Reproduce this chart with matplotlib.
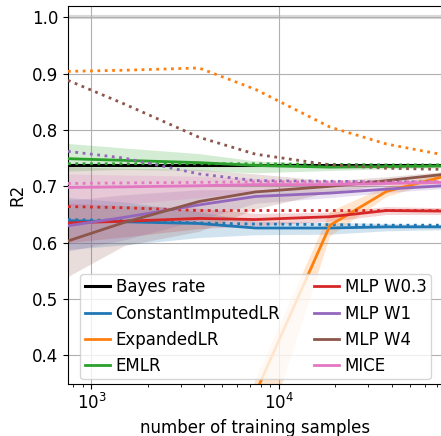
import numpy as np
import matplotlib
matplotlib.use('Agg')
from matplotlib import pyplot as plt

# training set sizes
n_samples = [750, 1500, 3750, 7500, 18750, 37500, 75000]

# Bayes rate (reference)
bayes = [0.737, 0.737, 0.737, 0.737, 0.737, 0.737, 0.737]

# test scores (solid), lower / upper band, train scores (dotted)
const_lr = [0.639, 0.637, 0.634, 0.626, 0.626, 0.628, 0.628]
const_lr_lo = [0.588, 0.596, 0.609, 0.614, 0.615, 0.621, 0.623]
const_lr_hi = [0.680, 0.672, 0.655, 0.638, 0.636, 0.634, 0.632]
const_lr_train = [0.641, 0.639, 0.635, 0.633, 0.632, 0.631, 0.631]

expanded = [-1.8, -0.9, -0.15, 0.333, 0.631, 0.691, 0.717]
expanded_lo = [-2.3, -1.3, -0.4, 0.203, 0.611, 0.681, 0.711]
expanded_hi = [-1.4, -0.6, 0.0, 0.357, 0.655, 0.700, 0.722]
expanded_train = [0.904, 0.906, 0.910, 0.872, 0.805, 0.775, 0.756]

emlr = [0.749, 0.746, 0.742, 0.737, 0.734, 0.735, 0.736]
emlr_lo = [0.727, 0.730, 0.728, 0.724, 0.728, 0.731, 0.733]
emlr_hi = [0.776, 0.768, 0.758, 0.745, 0.740, 0.739, 0.739]
emlr_train = [0.740, 0.740, 0.740, 0.740, 0.739, 0.738, 0.738]

mlp03 = [0.635, 0.638, 0.643, 0.641, 0.646, 0.657, 0.656]
mlp03_lo = [0.600, 0.610, 0.625, 0.630, 0.638, 0.650, 0.650]
mlp03_hi = [0.670, 0.666, 0.661, 0.652, 0.654, 0.664, 0.662]
mlp03_train = [0.664, 0.662, 0.657, 0.657, 0.657, 0.657, 0.657]

mlp1 = [0.630, 0.645, 0.667, 0.682, 0.688, 0.695, 0.701]
mlp1_lo = [0.585, 0.605, 0.640, 0.670, 0.680, 0.689, 0.696]
mlp1_hi = [0.675, 0.685, 0.694, 0.694, 0.696, 0.701, 0.706]
mlp1_train = [0.762, 0.750, 0.722, 0.710, 0.709, 0.708, 0.708]

mlp4 = [0.603, 0.636, 0.673, 0.690, 0.700, 0.710, 0.721]
mlp4_lo = [0.540, 0.595, 0.620, 0.660, 0.690, 0.703, 0.716]
mlp4_hi = [0.735, 0.732, 0.730, 0.722, 0.710, 0.717, 0.726]
mlp4_train = [0.888, 0.846, 0.787, 0.757, 0.738, 0.732, 0.730]

mice = [0.698, 0.699, 0.701, 0.703, 0.703, 0.705, 0.707]
mice_lo = [0.665, 0.668, 0.680, 0.690, 0.697, 0.701, 0.704]
mice_hi = [0.722, 0.720, 0.718, 0.714, 0.709, 0.709, 0.710]
mice_train = [0.705, 0.706, 0.707, 0.708, 0.708, 0.708, 0.708]

labels = ['ConstantImputedLR', 'ExpandedLR', 'EMLR', 'MLP W0.3', 'MLP W1', 'MLP W4', 'MICE']
colors = ['C0', 'C1', 'C2', 'C3', 'C4', 'C5', 'C6']
tests = [const_lr, expanded, emlr, mlp03, mlp1, mlp4, mice]
lows = [const_lr_lo, expanded_lo, emlr_lo, mlp03_lo, mlp1_lo, mlp4_lo, mice_lo]
highs = [const_lr_hi, expanded_hi, emlr_hi, mlp03_hi, mlp1_hi, mlp4_hi, mice_hi]
trains = [const_lr_train, expanded_train, emlr_train, mlp03_train, mlp1_train, mlp4_train, mice_train]

plt.rcParams['font.size'] = 12

fig = plt.figure(figsize=(4.41, 4.36), dpi=100)
ax = fig.add_axes([68 / 441, 52.5 / 436, 375 / 441, 377.5 / 436])

ax.axhline(1.0, color='0.85', linewidth=3, zorder=1)

ax.plot(n_samples, bayes, color='k', linewidth=2.2, label='Bayes rate', zorder=3)

for lab, col, te, lo, hi, tr in zip(labels, colors, tests, lows, highs, trains):
    ax.fill_between(n_samples, lo, hi, color=col, alpha=0.2, linewidth=0, zorder=2)
    ax.plot(n_samples, te, color=col, linewidth=2, label=lab, zorder=3)
    ax.plot(n_samples, tr, color=col, linewidth=2, linestyle=':', zorder=3)

ax.set_xscale('log')
ax.set_xlim(750, 75000)
ax.set_ylim(0.35, 1.02)
ax.set_yticks([0.4, 0.5, 0.6, 0.7, 0.8, 0.9, 1.0])
ax.grid(True, which='major')
ax.spines['right'].set_visible(False)
ax.set_xlabel('number of training samples')
ax.set_ylabel('R2')
ax.legend(loc='lower center', ncol=2, handlelength=1.52, handletextpad=0.34,
          columnspacing=2.0, borderaxespad=0.25, borderpad=0.25)

fig.savefig('out.png', dpi=100)
